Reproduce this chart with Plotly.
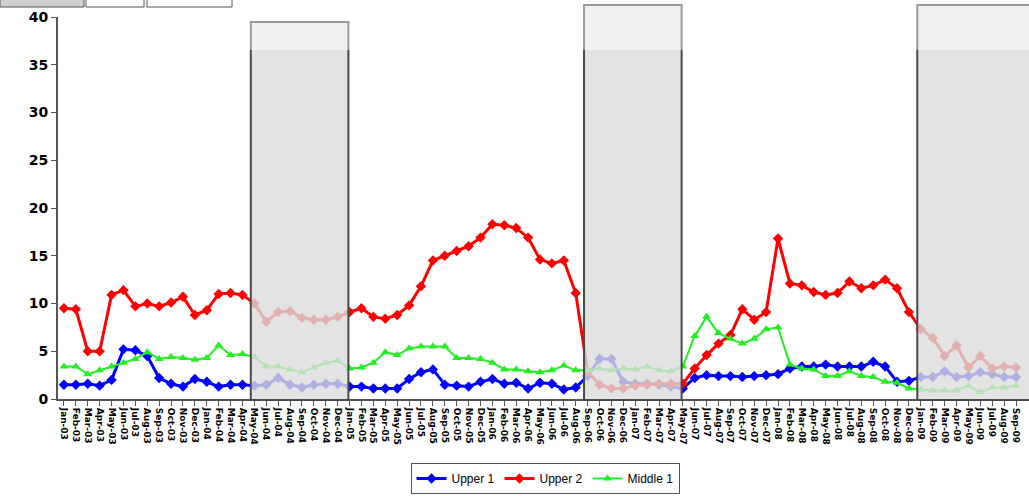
import plotly.graph_objects as go

# ---------------- data ----------------
month_names = ["Jan", "Feb", "Mar", "Apr", "May", "Jun",
               "Jul", "Aug", "Sep", "Oct", "Nov", "Dec"]
start_year = 3  # 2003
n_points = 81
categories = [f"{month_names[i % 12]}-{(start_year + i // 12):02d}" for i in range(n_points)]

upper1 = [1.5, 1.5, 1.6, 1.4, 2.0, 5.2, 5.1, 4.5, 2.2, 1.6,
          1.3, 2.1, 1.8, 1.3, 1.5, 1.5, 1.4, 1.5, 2.2, 1.5,
          1.2, 1.5, 1.6, 1.6, 1.3, 1.3, 1.1, 1.1, 1.1, 2.1,
          2.8, 3.1, 1.5, 1.4, 1.3, 1.8, 2.1, 1.6, 1.7, 1.1,
          1.7, 1.6, 1.0, 1.2, 2.4, 4.2, 4.2, 1.8, 1.6, 1.6,
          1.5, 1.3, 1.1, 2.2, 2.5, 2.4, 2.4, 2.3, 2.4, 2.5,
          2.6, 3.2, 3.4, 3.4, 3.6, 3.4, 3.4, 3.4, 3.9, 3.4,
          1.8, 1.9, 2.3, 2.3, 2.9, 2.3, 2.4, 2.8, 2.6, 2.3,
          2.3]

upper2 = [9.5, 9.4, 5.0, 5.0, 10.9, 11.4, 9.7, 10.0, 9.7, 10.1,
          10.7, 8.8, 9.3, 11.0, 11.1, 10.9, 10.0, 8.1, 9.1, 9.2,
          8.5, 8.3, 8.3, 8.6, 9.1, 9.5, 8.6, 8.4, 8.8, 9.8,
          11.8, 14.5, 15.0, 15.5, 16.0, 16.9, 18.3, 18.2, 17.9, 16.9,
          14.6, 14.2, 14.5, 11.1, 2.9, 1.5, 1.1, 1.1, 1.4, 1.5,
          1.6, 1.6, 1.6, 3.2, 4.6, 5.8, 6.7, 9.4, 8.3, 9.1,
          16.8, 12.1, 11.9, 11.2, 10.9, 11.1, 12.3, 11.6, 11.9, 12.5,
          11.6, 9.1, 7.3, 6.4, 4.5, 5.6, 3.3, 4.5, 3.2, 3.4,
          3.3]

middle1 = [3.4, 3.4, 2.6, 3.0, 3.4, 3.8, 4.2, 4.9, 4.2, 4.4,
           4.3, 4.1, 4.3, 5.6, 4.6, 4.7, 4.4, 3.4, 3.4, 3.1,
           2.8, 3.3, 3.8, 4.0, 3.2, 3.3, 3.8, 4.9, 4.6, 5.3,
           5.5, 5.5, 5.5, 4.3, 4.3, 4.2, 3.8, 3.1, 3.1, 2.9,
           2.8, 3.0, 3.5, 3.0, 3.0, 3.2, 3.0, 3.2, 3.1, 3.4,
           3.0, 2.9, 3.4, 6.6, 8.6, 6.9, 6.3, 5.8, 6.3, 7.3,
           7.5, 3.6, 3.2, 3.1, 2.4, 2.4, 2.9, 2.4, 2.3, 1.8,
           1.7, 1.1, 1.0, 0.9, 0.9, 0.9, 1.4, 0.7, 1.2, 1.2,
           1.4]

series_names = ["Upper 1", "Upper 2", "Middle 1"]
y_tick_values = [0, 5, 10, 15, 20, 25, 30, 35, 40]

# shaded periods (category index of first / last month)
shade_first = [16, 44, 72]
shade_last = [24, 52, 80]

# ---------------- layout geometry ----------------
W, H = 1029, 496
ML, MR, MT, MB = 58, 7, 17, 97
PW, PH = W - ML - MR, H - MT - MB
x_lo, x_hi = -0.5, n_points - 0.5


def px_x(px):
    return (px - ML) / PW


def px_y(py):
    return (H - MB - py) / PH


def cat_x(c):
    return (c - x_lo) / (x_hi - x_lo)


fig = go.Figure()
fig.add_trace(go.Scatter(
    x=list(range(n_points)), y=upper1, name=series_names[0], mode="lines+markers",
    line=dict(color="#0000FF", width=3),
    marker=dict(symbol="diamond", size=8, color="#0000FF")))
fig.add_trace(go.Scatter(
    x=list(range(n_points)), y=upper2, name=series_names[1], mode="lines+markers",
    line=dict(color="#FF0000", width=3),
    marker=dict(symbol="diamond", size=8, color="#FF0000")))
fig.add_trace(go.Scatter(
    x=list(range(n_points)), y=middle1, name=series_names[2], mode="lines+markers",
    line=dict(color="#22EE22", width=2),
    marker=dict(symbol="triangle-up", size=8, color="#22EE22")))

shapes = []
tops = [px_y(22), px_y(5), px_y(5)]
for i, (a, b) in enumerate(zip(shade_first, shade_last)):
    x0 = cat_x(a - 0.3)
    x1 = cat_x(b - 0.1) if i < len(shade_first) - 1 else px_x(W + 5)
    shapes.append(dict(type="rect", xref="paper", yref="paper",
                       x0=x0, x1=x1, y0=px_y(400), y1=tops[i],
                       fillcolor="rgba(220,220,220,0.8)",
                       line=dict(color="#4a4a4a", width=2), layer="above"))

# faded band at top of the picture
shapes.append(dict(type="rect", xref="paper", yref="paper",
                   x0=px_x(60), x1=px_x(W + 5), y0=px_y(50), y1=px_y(-2),
                   fillcolor="rgba(255,255,255,0.45)", line=dict(width=0), layer="above"))

# small boxes at top left
for (a, b, fill) in [(0, 84, "#d0d0d0"), (86, 144, "#ffffff"), (147, 232, "#ffffff")]:
    shapes.append(dict(type="rect", xref="paper", yref="paper",
                       x0=px_x(a), x1=px_x(b), y0=px_y(7), y1=px_y(-2),
                       fillcolor=fill, line=dict(color="#555555", width=1), layer="above"))

fig.update_layout(
    width=W, height=H,
    margin=dict(l=ML, r=MR, t=MT, b=MB, autoexpand=False),
    paper_bgcolor="white", plot_bgcolor="white",
    font=dict(family="Liberation Sans, Arial", color="black"),
    showlegend=True,
    legend=dict(orientation="h", x=px_x(545), xanchor="center",
                y=px_y(463), yanchor="top",
                bordercolor="#555555", borderwidth=1,
                font=dict(size=12, family="Liberation Sans, Arial", color="black"),
                itemwidth=30, tracegroupgap=0),
    shapes=shapes,
    xaxis=dict(range=[x_lo, x_hi], tickmode="array",
               tickvals=list(range(n_points)), ticktext=categories,
               tickangle=90,
               tickfont=dict(size=9, family="DejaVu Sans", weight="bold", color="black"),
               showgrid=False, zeroline=False, showline=True,
               linecolor="#555555", linewidth=2,
               ticks="outside", ticklen=5, tickcolor="#555555", tickwidth=1,
               tickson="boundaries"),
    yaxis=dict(range=[0, 40], tickmode="array", tickvals=y_tick_values,
               tickfont=dict(size=14, family="DejaVu Sans", weight="bold", color="black"),
               showgrid=False, zeroline=False, showline=True,
               linecolor="#555555", linewidth=2,
               ticks="outside", ticklen=5, tickcolor="#555555", tickwidth=1),
)

fig.write_html("out.html",
               config={"displayModeBar": False},
               post_script="document.body.style.margin='0px';document.body.style.overflow='hidden';")
